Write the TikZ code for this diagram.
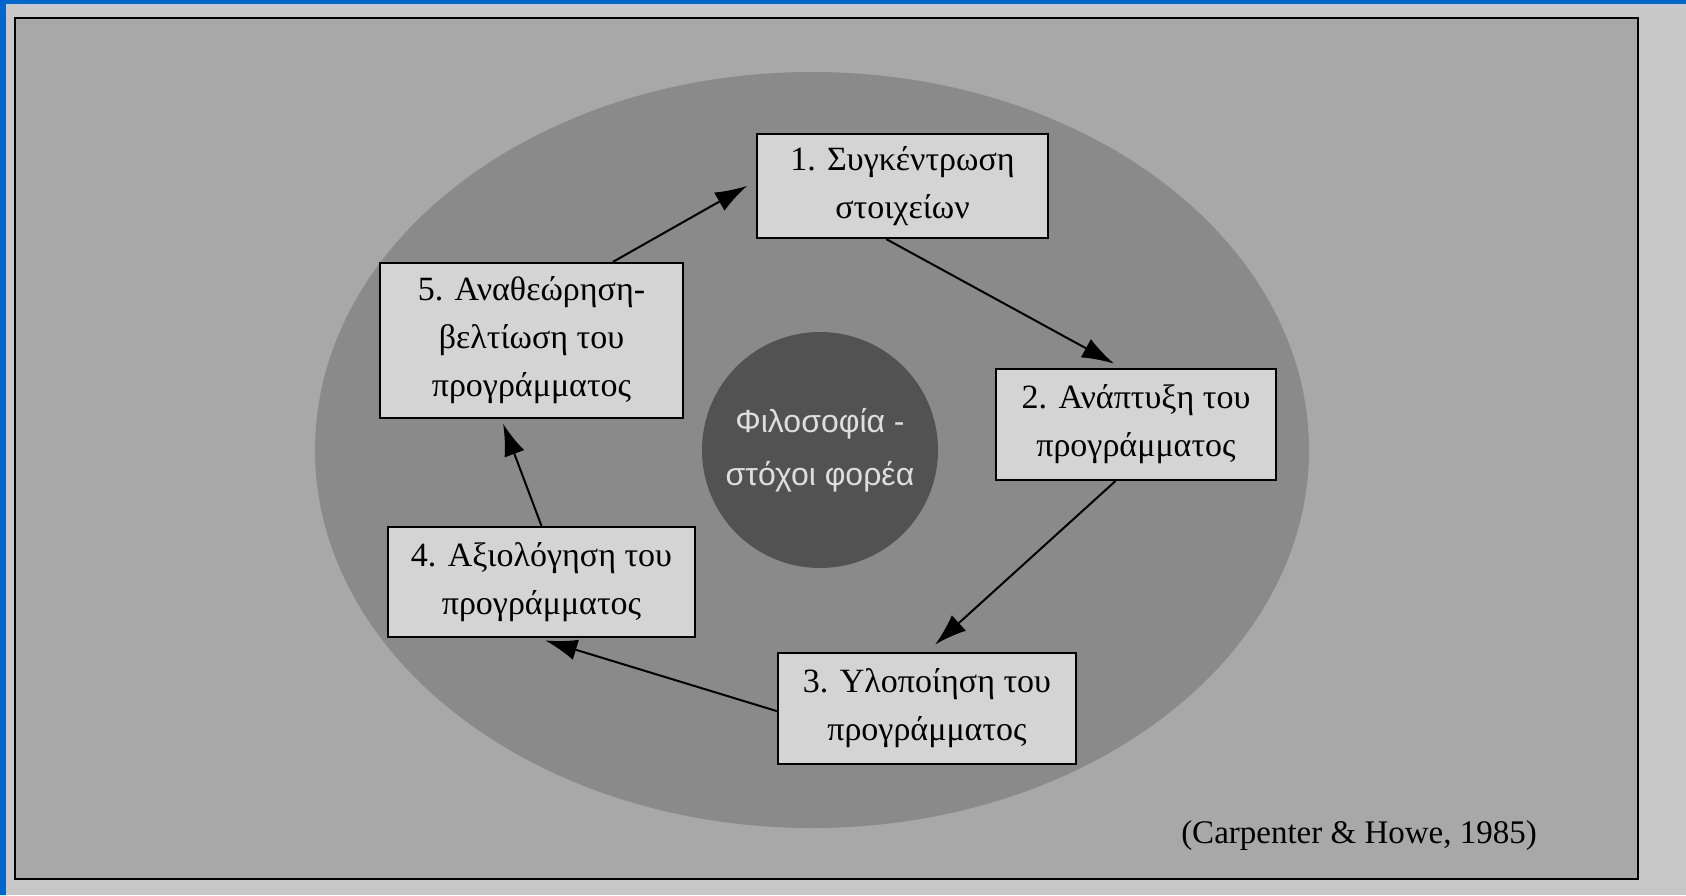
\documentclass[tikz,border=0pt]{standalone}
\usepackage{fontspec}
\setmainfont{Liberation Serif}
\newfontfamily\corefont{Liberation Sans}
\usetikzlibrary{arrows.meta}

\definecolor{scanblue}{RGB}{0,102,204}
\definecolor{paper}{RGB}{200,200,200}
\definecolor{panel}{RGB}{168,168,168}
\definecolor{ring}{RGB}{138,138,138}
\definecolor{coregray}{RGB}{82,82,82}
\definecolor{boxfill}{RGB}{212,212,212}
\definecolor{coretext}{RGB}{222,222,222}

\begin{document}
\begin{tikzpicture}[
    x=1pt, y=-1pt,
    block/.style={draw, line width=2.2pt, fill=boxfill, align=center, inner sep=0pt, font=\fontsize{34}{48}\selectfont},
    arrow/.style={-{Latex[length=32pt, width=21pt]}, line width=2pt}
]
\fill[paper] (0,0) rectangle (1686,895);
\fill[scanblue] (0,0) rectangle (1686,4);
\fill[scanblue] (0,0) rectangle (6,895);
\draw[line width=2.5pt, fill=panel] (15,18) rectangle (1638,879);
\fill[ring] (812,450) ellipse [x radius=497, y radius=378];

\node[circle, fill=coregray, minimum size=236pt, inner sep=0pt, text=coretext, align=center, font=\corefont\fontsize{32}{53}\selectfont] (core) at (820,450) {Φιλοσοφία -\\στόχοι φορέα};

\node[block, minimum width=291pt, minimum height=104pt] (b1) at (902.5,186) {1. Συγκέντρωση\\στοιχείων};
\node[block, minimum width=280pt, minimum height=111pt] (b2) at (1136,424.5) {2. Ανάπτυξη του\\προγράμματος};
\node[block, minimum width=298pt, minimum height=111pt] (b3) at (927,708.5) {3. Υλοποίηση του\\προγράμματος};
\node[block, minimum width=307pt, minimum height=110pt] (b4) at (541.5,582) {4. Αξιολόγηση του\\προγράμματος};
\node[block, minimum width=303pt, minimum height=155pt] (b5) at (531.5,340.5) {5. Αναθεώρηση-\\βελτίωση του\\προγράμματος};

\node[anchor=base east, inner sep=0pt, font=\fontsize{33}{40}\selectfont] (source) at (1537,843) {(Carpenter \& Howe, 1985)};

\draw[arrow, shorten >=10pt] (b5.44) -- (b1.178);
\draw[arrow, shorten >=9pt] (b1.253) -- (b2.104);
\draw[arrow, shorten >=11pt] (b2.250) -- (b3.north);
\draw[arrow, shorten >=8pt] (b3.181) -- (b4.266);
\draw[arrow, shorten >=5pt] (b4.north) -- (b5.249);
\end{tikzpicture}
\end{document}
